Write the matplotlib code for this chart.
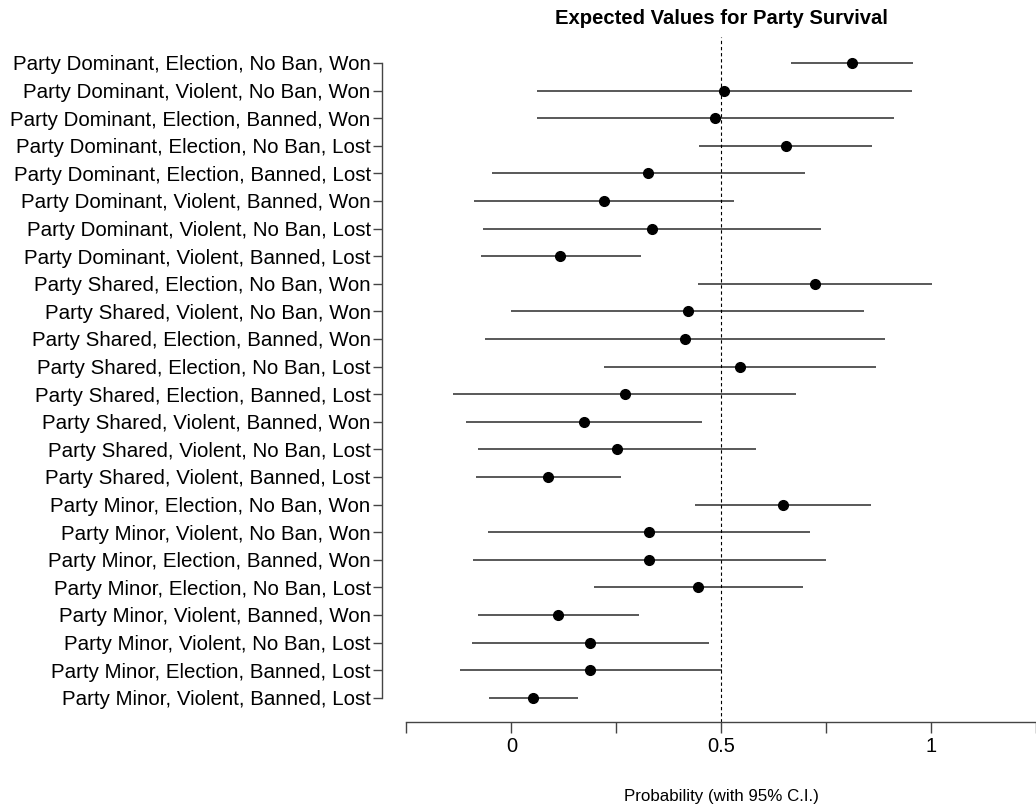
import numpy as np
import matplotlib
matplotlib.use('Agg')
import matplotlib.pyplot as plt
import matplotlib.transforms as mtransforms

plt.rcParams['font.family'] = ['Liberation Sans', 'DejaVu Sans']

labels = [
    'Party Dominant, Election, No Ban, Won',
    'Party Dominant, Violent, No Ban, Won',
    'Party Dominant, Election, Banned, Won',
    'Party Dominant, Election, No Ban, Lost',
    'Party Dominant, Election, Banned, Lost',
    'Party Dominant, Violent, Banned, Won',
    'Party Dominant, Violent, No Ban, Lost',
    'Party Dominant, Violent, Banned, Lost',
    'Party Shared, Election, No Ban, Won',
    'Party Shared, Violent, No Ban, Won',
    'Party Shared, Election, Banned, Won',
    'Party Shared, Election, No Ban, Lost',
    'Party Shared, Election, Banned, Lost',
    'Party Shared, Violent, Banned, Won',
    'Party Shared, Violent, No Ban, Lost',
    'Party Shared, Violent, Banned, Lost',
    'Party Minor, Election, No Ban, Won',
    'Party Minor, Violent, No Ban, Won',
    'Party Minor, Election, Banned, Won',
    'Party Minor, Election, No Ban, Lost',
    'Party Minor, Violent, Banned, Won',
    'Party Minor, Violent, No Ban, Lost',
    'Party Minor, Election, Banned, Lost',
    'Party Minor, Violent, Banned, Lost',
]

# point estimates and 95% interval bounds
est = [0.811, 0.506, 0.484, 0.654, 0.326, 0.220, 0.335, 0.117,
       0.723, 0.420, 0.413, 0.545, 0.270, 0.173, 0.252, 0.088,
       0.646, 0.328, 0.328, 0.445, 0.112, 0.188, 0.188, 0.052]
lo = [0.666, 0.060, 0.060, 0.448, -0.047, -0.088, -0.068, -0.073,
      0.444, 0.000, -0.064, 0.220, -0.139, -0.109, -0.080, -0.084,
      0.437, -0.055, -0.092, 0.197, -0.080, -0.095, -0.123, -0.053]
hi = [0.956, 0.954, 0.911, 0.859, 0.699, 0.530, 0.737, 0.310,
      1.003, 0.840, 0.890, 0.868, 0.677, 0.455, 0.584, 0.260,
      0.857, 0.711, 0.749, 0.694, 0.304, 0.472, 0.501, 0.158]

W, H = 1036, 807
fig = plt.figure(figsize=(W / 100, H / 100), dpi=100)
ax = fig.add_axes([381.7 / W, 1 - 722 / H, (W - 381.7) / W, (722 - 37) / H])

ypos = np.arange(len(labels))
ax.hlines(ypos, lo, hi, color='#2b2b2b', lw=1.1)
ax.plot(est, ypos, 'o', color='black', ms=7)
ax.axvline(0.5, color='black', lw=0.8, dashes=(3, 2.5))

ax.set_xlim(-0.309, 1.224)
ax.set_ylim(23.877, -0.942)

for s in ['top', 'right']:
    ax.spines[s].set_visible(False)
ax.spines['left'].set_bounds(0, len(labels) - 1)
ax.spines['bottom'].set_bounds(-0.25, 1.25)
for s in ['left', 'bottom']:
    ax.spines[s].set_color('#444444')
    ax.spines[s].set_linewidth(1.0)

ax.set_yticks(ypos)
ax.set_yticklabels(labels, fontsize=14.8)
ax.set_xticks([0, 0.5, 1])
ax.set_xticklabels(['0', '0.5', '1'], fontsize=14.5)
ax.set_xticks([-0.25, 0.25, 0.75, 1.25], minor=True)
ax.tick_params(axis='y', length=6.5, pad=1.4, color='#444444', width=1.0)
ax.tick_params(axis='x', which='both', length=7.9, pad=3, color='#444444', width=1.0)

trans = mtransforms.blended_transform_factory(ax.transData, fig.transFigure)
ax.text(0.5, 1 - 18 / H, 'Expected Values for Party Survival', transform=trans,
        ha='center', va='center', fontsize=14.6, fontweight='bold')
ax.text(0.5, 1 - 797 / H, 'Probability (with 95% C.I.)', transform=trans,
        ha='center', va='center', fontsize=12.2)

fig.savefig('out.png', dpi=100)
